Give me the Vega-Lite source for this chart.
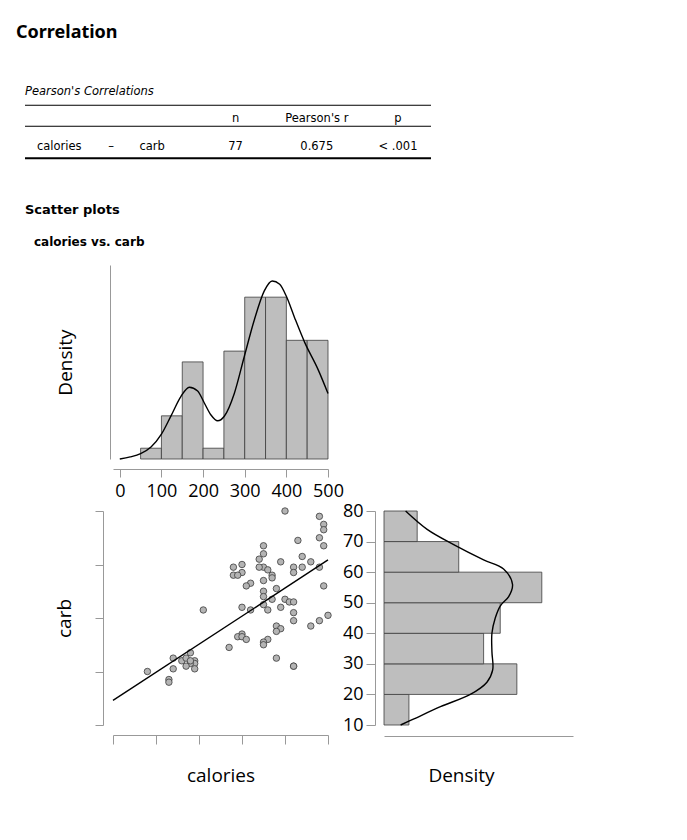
{
  "$schema": "https://vega.github.io/schema/vega-lite/v6.json",
  "background": "white",
  "padding": {"left": 16, "top": 24, "right": 5, "bottom": 5},
  "title": {"text": "Correlation", "anchor": "start", "frame": "bounds", "font": "Noto Sans", "fontSize": 18, "fontWeight": "bold", "color": "#000000", "dx": -8, "offset": 44},
  "bounds": "full",
  "spacing": 43,
  "datasets": {
    "tableCells": [
      {"row": "header", "col": "n", "label": "n"},
      {"row": "header", "col": "r", "label": "Pearson's r"},
      {"row": "header", "col": "p", "label": "p"},
      {"row": "body", "col": "v1", "label": "calories"},
      {"row": "body", "col": "dash", "label": "–"},
      {"row": "body", "col": "v2", "label": "carb"},
      {"row": "body", "col": "n", "label": "77"},
      {"row": "body", "col": "r", "label": "0.675"},
      {"row": "body", "col": "p", "label": "< .001"}
    ],
    "tableRules": [
      {"row": "header", "edge": "top"},
      {"row": "body", "edge": "top"},
      {"row": "body", "edge": "bottom"}
    ],
    "calHist": [
      {"bin_start": 50, "bin_end": 100, "density": 0.00026},
      {"bin_start": 100, "bin_end": 150, "density": 0.00104},
      {"bin_start": 150, "bin_end": 200, "density": 0.00234},
      {"bin_start": 200, "bin_end": 250, "density": 0.00026},
      {"bin_start": 250, "bin_end": 300, "density": 0.0026},
      {"bin_start": 300, "bin_end": 350, "density": 0.0039},
      {"bin_start": 350, "bin_end": 400, "density": 0.0039},
      {"bin_start": 400, "bin_end": 450, "density": 0.00286},
      {"bin_start": 450, "bin_end": 500, "density": 0.00286}
    ],
    "calDens": [
      {"calories": 0, "density": 0},
      {"calories": 25, "density": 0.00005},
      {"calories": 50, "density": 0.00013},
      {"calories": 75, "density": 0.00029},
      {"calories": 100, "density": 0.0006},
      {"calories": 123, "density": 0.00104},
      {"calories": 147, "density": 0.00151},
      {"calories": 167, "density": 0.00173},
      {"calories": 187, "density": 0.00164},
      {"calories": 203, "density": 0.00135},
      {"calories": 219, "density": 0.00106},
      {"calories": 235, "density": 0.00092},
      {"calories": 251, "density": 0.00103},
      {"calories": 275, "density": 0.00158},
      {"calories": 299, "density": 0.00247},
      {"calories": 323, "density": 0.00335},
      {"calories": 347, "density": 0.00405},
      {"calories": 366, "density": 0.00429},
      {"calories": 384, "density": 0.00421},
      {"calories": 400, "density": 0.00392},
      {"calories": 420, "density": 0.0034},
      {"calories": 444, "density": 0.00281},
      {"calories": 476, "density": 0.00216},
      {"calories": 500, "density": 0.00158}
    ],
    "points": [
      {"calories": 400, "carb": 80}, {"calories": 480, "carb": 78}, {"calories": 490, "carb": 75},
      {"calories": 490, "carb": 73}, {"calories": 480, "carb": 70}, {"calories": 430, "carb": 69},
      {"calories": 490, "carb": 67}, {"calories": 350, "carb": 67}, {"calories": 350, "carb": 64},
      {"calories": 340, "carb": 62}, {"calories": 440, "carb": 63}, {"calories": 390, "carb": 61},
      {"calories": 460, "carb": 61}, {"calories": 280, "carb": 59}, {"calories": 300, "carb": 60},
      {"calories": 280, "carb": 56}, {"calories": 300, "carb": 57}, {"calories": 350, "carb": 59},
      {"calories": 360, "carb": 58}, {"calories": 370, "carb": 56}, {"calories": 370, "carb": 55},
      {"calories": 420, "carb": 59}, {"calories": 420, "carb": 57}, {"calories": 440, "carb": 59},
      {"calories": 480, "carb": 59}, {"calories": 320, "carb": 53}, {"calories": 310, "carb": 52},
      {"calories": 350, "carb": 54}, {"calories": 380, "carb": 51}, {"calories": 490, "carb": 52},
      {"calories": 350, "carb": 50}, {"calories": 350, "carb": 48}, {"calories": 370, "carb": 47},
      {"calories": 400, "carb": 47}, {"calories": 410, "carb": 46}, {"calories": 420, "carb": 46},
      {"calories": 350, "carb": 45}, {"calories": 300, "carb": 44}, {"calories": 320, "carb": 43},
      {"calories": 360, "carb": 43}, {"calories": 390, "carb": 44}, {"calories": 420, "carb": 42},
      {"calories": 500, "carb": 41}, {"calories": 420, "carb": 39}, {"calories": 480, "carb": 39},
      {"calories": 460, "carb": 37}, {"calories": 380, "carb": 37}, {"calories": 390, "carb": 36},
      {"calories": 380, "carb": 35}, {"calories": 300, "carb": 34}, {"calories": 290, "carb": 33},
      {"calories": 300, "carb": 33}, {"calories": 310, "carb": 32}, {"calories": 360, "carb": 32},
      {"calories": 350, "carb": 31}, {"calories": 350, "carb": 30}, {"calories": 270, "carb": 29},
      {"calories": 210, "carb": 43}, {"calories": 380, "carb": 25}, {"calories": 420, "carb": 22},
      {"calories": 180, "carb": 27}, {"calories": 140, "carb": 25}, {"calories": 160, "carb": 24},
      {"calories": 170, "carb": 25}, {"calories": 190, "carb": 24}, {"calories": 190, "carb": 23},
      {"calories": 180, "carb": 23}, {"calories": 170, "carb": 22}, {"calories": 190, "carb": 21},
      {"calories": 140, "carb": 21}, {"calories": 80, "carb": 20}, {"calories": 130, "carb": 17},
      {"calories": 130, "carb": 16}, {"calories": 180, "carb": 24}, {"calories": 290, "carb": 56},
      {"calories": 340, "carb": 59}, {"calories": 420, "carb": 22}
    ],
    "fit": [
      {"calories": 0, "carb": 9.2},
      {"calories": 500, "carb": 61.7}
    ],
    "carbHist": [
      {"bin_start": 10, "bin_end": 20, "density": 0.0039},
      {"bin_start": 20, "bin_end": 30, "density": 0.02078},
      {"bin_start": 30, "bin_end": 40, "density": 0.01558},
      {"bin_start": 40, "bin_end": 50, "density": 0.01818},
      {"bin_start": 50, "bin_end": 60, "density": 0.02468},
      {"bin_start": 60, "bin_end": 70, "density": 0.01169},
      {"bin_start": 70, "bin_end": 80, "density": 0.00519}
    ],
    "carbDens": [
      {"carb": 10, "density": 0.0026},
      {"carb": 12, "density": 0.00468},
      {"carb": 16, "density": 0.00883},
      {"carb": 20, "density": 0.0135},
      {"carb": 24, "density": 0.0161},
      {"carb": 28, "density": 0.017},
      {"carb": 34, "density": 0.01688},
      {"carb": 40, "density": 0.01688},
      {"carb": 45, "density": 0.0174},
      {"carb": 49, "density": 0.0182},
      {"carb": 52, "density": 0.0195},
      {"carb": 56, "density": 0.0201},
      {"carb": 61, "density": 0.0187},
      {"carb": 64, "density": 0.01558},
      {"carb": 69, "density": 0.0109},
      {"carb": 74, "density": 0.00675},
      {"carb": 80, "density": 0.00338}
    ]
  },
  "vconcat": [
    {
      "width": 406,
      "height": 57,
      "title": {"text": "Pearson's Correlations", "anchor": "start", "frame": "group", "font": "DejaVu Sans", "fontSize": 11.5, "fontStyle": "italic", "fontWeight": "normal", "color": "#000000", "offset": 6.5},
      "layer": [
        {
          "data": {"name": "tableRules"},
          "transform": [{"filter": "datum.row === 'header' && datum.edge === 'top'"}],
          "mark": {"type": "rule", "color": "#000000", "strokeWidth": 1, "yOffset": 1.25},
          "encoding": {"y": {"field": "row", "type": "nominal", "bandPosition": 0, "scale": {"type": "band", "domain": ["header", "body"], "paddingInner": 0, "paddingOuter": 0}, "axis": null}}
        },
        {
          "data": {"name": "tableRules"},
          "transform": [{"filter": "datum.row === 'body' && datum.edge === 'top'"}],
          "mark": {"type": "rule", "color": "#000000", "strokeWidth": 1, "yOffset": -6.25},
          "encoding": {"y": {"field": "row", "type": "nominal", "bandPosition": 0}}
        },
        {
          "data": {"name": "tableRules"},
          "transform": [{"filter": "datum.edge === 'bottom'"}],
          "mark": {"type": "rule", "color": "#000000", "strokeWidth": 2, "yOffset": -2.75},
          "encoding": {"y": {"field": "row", "type": "nominal", "bandPosition": 1}}
        },
        {
          "data": {"name": "tableCells"},
          "transform": [{"filter": "datum.col === 'v1'"}],
          "mark": {"type": "text", "align": "left", "dx": 12, "dy": 0.5, "font": "DejaVu Sans", "fontSize": 11.5, "color": "#000000"},
          "encoding": {
            "x": {"field": "col", "type": "nominal", "scale": {"type": "point", "domain": ["v1", "dash", "v2", "n", "r", "p"], "padding": 0}, "axis": null},
            "y": {"field": "row", "type": "nominal"},
            "text": {"field": "label"}
          }
        },
        {
          "data": {"name": "tableCells"},
          "transform": [{"filter": "datum.col === 'dash'"}],
          "mark": {"type": "text", "align": "center", "dx": 5, "dy": 0.5, "font": "DejaVu Sans", "fontSize": 11.5, "color": "#000000"},
          "encoding": {
            "x": {"field": "col", "type": "nominal"},
            "y": {"field": "row", "type": "nominal"},
            "text": {"field": "label"}
          }
        },
        {
          "data": {"name": "tableCells"},
          "transform": [{"filter": "datum.col === 'v2'"}],
          "mark": {"type": "text", "align": "left", "dx": -48, "dy": 0.5, "font": "DejaVu Sans", "fontSize": 11.5, "color": "#000000"},
          "encoding": {
            "x": {"field": "col", "type": "nominal"},
            "y": {"field": "row", "type": "nominal"},
            "text": {"field": "label"}
          }
        },
        {
          "data": {"name": "tableCells"},
          "transform": [{"filter": "datum.col === 'n' || datum.col === 'r' || datum.col === 'p'"}],
          "mark": {"type": "text", "align": "center", "dx": -33, "dy": 0.5, "font": "DejaVu Sans", "fontSize": 11.5, "color": "#000000"},
          "encoding": {
            "x": {"field": "col", "type": "nominal"},
            "y": {"field": "row", "type": "nominal"},
            "text": {"field": "label"}
          }
        }
      ]
    },
    {
      "bounds": "flush",
      "spacing": 87,
      "hconcat": [
        {
          "width": 1,
          "height": 1,
          "data": {"values": []},
          "mark": {"type": "point", "opacity": 0},
          "encoding": {}
        },
        {
          "title": {"text": "Scatter plots", "anchor": "start", "frame": "bounds", "font": "DejaVu Sans", "fontSize": 13, "fontWeight": "bold", "color": "#000000", "dx": -9, "offset": 19},
          "bounds": "flush",
          "spacing": 52,
          "vconcat": [
            {
              "width": 215,
              "height": 194,
              "title": {"text": "calories vs. carb", "anchor": "start", "frame": "bounds", "font": "DejaVu Sans", "fontSize": 12, "fontWeight": "bold", "color": "#000000", "dx": -22, "offset": 16},
              "layer": [
                {
                  "data": {"name": "calHist"},
                  "mark": {"type": "bar", "fill": "#bebebe", "stroke": "#3c3c3c", "strokeWidth": 0.8},
                  "encoding": {
                    "x": {"field": "bin_start", "type": "quantitative", "scale": {"domain": [-16.3, 500], "nice": false, "zero": false},
                          "axis": {"title": null, "values": [0, 100, 200, 300, 400, 500], "offset": 10, "tickSize": 8, "labelPadding": 5, "labelFlush": false, "labelOverlap": false, "format": "d"}},
                    "x2": {"field": "bin_end"},
                    "y": {"field": "density", "type": "quantitative", "scale": {"domain": [0, 0.004675], "nice": false},
                          "axis": {"title": "Density", "offset": 3, "ticks": false, "labels": false, "titlePadding": 35}},
                    "y2": {"datum": 0}
                  }
                },
                {
                  "data": {"name": "calDens"},
                  "mark": {"type": "line", "color": "#000000", "strokeWidth": 1.4, "interpolate": "monotone"},
                  "encoding": {
                    "x": {"field": "calories", "type": "quantitative"},
                    "y": {"field": "density", "type": "quantitative"}
                  }
                }
              ]
            },
            {
              "bounds": "flush",
              "spacing": 56,
              "hconcat": [
                {
                  "width": 215,
                  "height": 214,
                  "layer": [
                    {
                      "data": {"name": "points"},
                      "mark": {"type": "circle", "fill": "#b4b4b4", "stroke": "#3c3c3c", "strokeWidth": 0.8, "size": 42, "opacity": 1},
                      "encoding": {
                        "x": {"field": "calories", "type": "quantitative", "scale": {"domain": [0, 500], "nice": false},
                              "axis": {"title": "calories", "values": [0, 100, 200, 300, 400, 500], "labels": false, "offset": 10, "tickSize": 9, "titlePadding": 22}},
                        "y": {"field": "carb", "type": "quantitative", "scale": {"domain": [0, 80], "nice": false},
                              "axis": {"title": "carb", "values": [0, 20, 40, 60, 80], "labels": false, "offset": 10, "tickSize": 8, "titlePadding": 20}}
                      }
                    },
                    {
                      "data": {"name": "fit"},
                      "mark": {"type": "line", "color": "#000000", "strokeWidth": 1.4},
                      "encoding": {
                        "x": {"field": "calories", "type": "quantitative"},
                        "y": {"field": "carb", "type": "quantitative"}
                      }
                    }
                  ]
                },
                {
                  "width": 189,
                  "height": 214,
                  "layer": [
                    {
                      "data": {"name": "carbHist"},
                      "mark": {"type": "bar", "fill": "#bebebe", "stroke": "#3c3c3c", "strokeWidth": 0.8},
                      "encoding": {
                        "y": {"field": "bin_start", "type": "quantitative", "scale": {"domain": [10, 80], "nice": false, "zero": false},
                              "axis": {"title": null, "values": [10, 20, 30, 40, 50, 60, 70, 80], "offset": 9, "tickSize": 9, "labelPadding": 3, "labelOverlap": false, "labelFlush": false}},
                        "y2": {"field": "bin_end"},
                        "x": {"field": "density", "type": "quantitative", "scale": {"domain": [0, 0.02956], "nice": false},
                              "axis": {"title": "Density", "ticks": false, "labels": false, "offset": 11, "titlePadding": 30, "titleX": 77}},
                        "x2": {"datum": 0}
                      }
                    },
                    {
                      "data": {"name": "carbDens"},
                      "mark": {"type": "line", "color": "#000000", "strokeWidth": 1.4, "interpolate": "catmull-rom"},
                      "encoding": {
                        "x": {"field": "density", "type": "quantitative"},
                        "y": {"field": "carb", "type": "quantitative",
                              "axis": {"title": null, "values": [10, 20, 30, 40, 50, 60, 70, 80], "offset": 9, "tickSize": 9, "labelPadding": 3, "labelOverlap": false, "labelFlush": false}},
                        "order": {"field": "carb", "type": "quantitative"}
                      }
                    }
                  ]
                }
              ]
            }
          ]
        }
      ]
    }
  ],
  "config": {
    "view": {"stroke": null},
    "axis": {
      "grid": false,
      "labelOverlap": false,
      "domainColor": "#999999",
      "tickColor": "#999999",
      "labelFont": "Open Sans",
      "labelFontSize": 18,
      "labelColor": "#000000",
      "titleFont": "Open Sans",
      "titleFontSize": 19,
      "titleFontWeight": "normal",
      "titleColor": "#000000"
    },
    "title": {"color": "#000000"}
  }
}
